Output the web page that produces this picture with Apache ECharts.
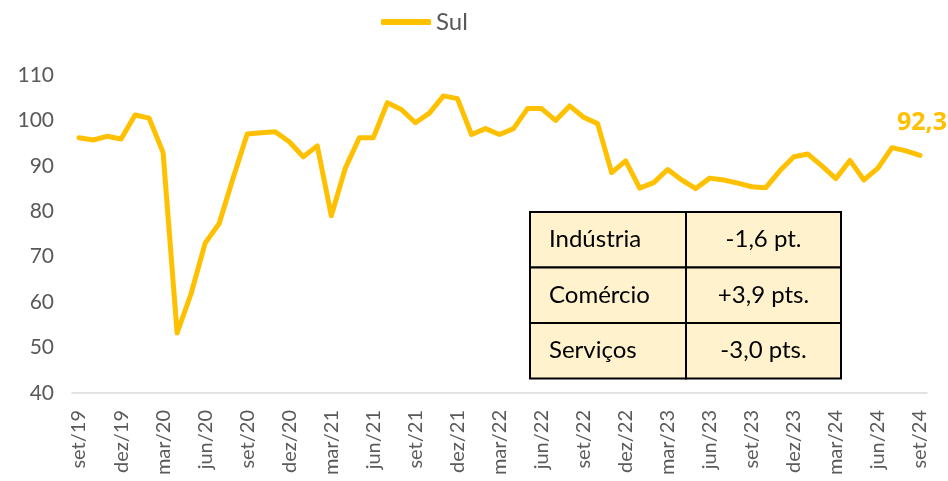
<!DOCTYPE html>
<html>
<head>
<meta charset="utf-8">
<script src="https://cdn.jsdelivr.net/npm/echarts@6/dist/echarts.min.js"></script>
<style>
  html, body { margin: 0; padding: 0; background: #fff; }
  #chart { width: 948px; height: 481px; }
</style>
</head>
<body>
<div id="chart"></div>
<script>
// meses de set/19 a set/24
const months = [
  "set/19", "out/19", "nov/19", "dez/19", "jan/20", "fev/20", "mar/20", "abr/20", "mai/20",
  "jun/20", "jul/20", "ago/20", "set/20", "out/20", "nov/20", "dez/20", "jan/21", "fev/21",
  "mar/21", "abr/21", "mai/21", "jun/21", "jul/21", "ago/21", "set/21", "out/21", "nov/21",
  "dez/21", "jan/22", "fev/22", "mar/22", "abr/22", "mai/22", "jun/22", "jul/22", "ago/22",
  "set/22", "out/22", "nov/22", "dez/22", "jan/23", "fev/23", "mar/23", "abr/23", "mai/23",
  "jun/23", "jul/23", "ago/23", "set/23", "out/23", "nov/23", "dez/23", "jan/24", "fev/24",
  "mar/24", "abr/24", "mai/24", "jun/24", "jul/24", "ago/24", "set/24"
];

const sulValues = [
  96.2, 95.7, 96.5, 95.9, 101.2, 100.5, 92.9, 53.2, 61.9,
  73.0, 77.3, 87.4, 97.0, 97.3, 97.5, 95.3, 92.0, 94.4,
  79.0, 89.5, 96.2, 96.2, 103.9, 102.4, 99.5, 101.6, 105.4,
  104.8, 96.9, 98.2, 96.9, 98.2, 102.6, 102.6, 100.0, 103.2,
  100.7, 99.3, 88.5, 91.1, 85.1, 86.3, 89.2, 86.9, 85.0,
  87.3, 86.9, 86.2, 85.4, 85.2, 88.9, 92.0, 92.6, 90.0,
  87.2, 91.2, 86.9, 89.5, 94.0, 93.3, 92.3
];

const yTicks = [40, 50, 60, 70, 80, 90, 100, 110];

// tabela de variações
const tableSectors = ["Indústria", "Comércio", "Serviços"];
const tableChanges = ["-1,6 pt.", "+3,9 pts.", "-3,0 pts."];

const amarelo = "#FFC000";
const cinza = "#595959";
const fonte = "Lato, 'Open Sans', sans-serif";

const chart = echarts.init(document.getElementById("chart"));

// caixa da tabela
const tbl = { x: 530, y: 212, w: 311, colW: 156, rowH: 55.5 };
const tableGraphics = [];
tableSectors.forEach((s, i) => {
  const top = tbl.y + i * tbl.rowH;
  tableGraphics.push({
    type: "rect",
    shape: { x: tbl.x, y: top, width: tbl.colW, height: tbl.rowH },
    style: { fill: "#FFF2CC", stroke: "#000", lineWidth: 2 }
  });
  tableGraphics.push({
    type: "rect",
    shape: { x: tbl.x + tbl.colW, y: top, width: tbl.w - tbl.colW, height: tbl.rowH },
    style: { fill: "#FFF2CC", stroke: "#000", lineWidth: 2 }
  });
  tableGraphics.push({
    type: "text",
    x: tbl.x + 19,
    y: top + tbl.rowH / 2,
    style: { text: s, fill: "#000", font: "24px " + fonte, textVerticalAlign: "middle" }
  });
  tableGraphics.push({
    type: "text",
    x: tbl.x + tbl.colW + (tbl.w - tbl.colW) / 2,
    y: top + tbl.rowH / 2,
    style: { text: tableChanges[i], fill: "#000", font: "24px " + fonte, textAlign: "center", textVerticalAlign: "middle" }
  });
});

const option = {
  animation: false,
  legend: {
    data: ["Sul"],
    left: 376,
    top: 5,
    itemWidth: 50,
    itemHeight: 6,
    itemGap: 4,
    icon: "roundRect",
    textStyle: { color: cinza, fontSize: 24, fontFamily: fonte }
  },
  grid: { left: 72, right: 21, top: 75, bottom: 88 },
  xAxis: {
    type: "category",
    data: months,
    boundaryGap: true,
    axisLine: { lineStyle: { color: "#D9D9D9", width: 1.5 } },
    axisTick: { show: false },
    axisLabel: {
      interval: 2,
      rotate: 90,
      color: cinza,
      fontSize: 20,
      fontFamily: fonte,
      margin: 17
    }
  },
  yAxis: {
    type: "value",
    min: yTicks[0],
    max: yTicks[yTicks.length - 1],
    interval: 10,
    splitLine: { show: false },
    axisLine: { show: false },
    axisTick: { show: false },
    axisLabel: { color: cinza, fontSize: 21, fontFamily: fonte, margin: 18 }
  },
  series: [
    {
      name: "Sul",
      type: "line",
      data: sulValues.map((v, i) =>
        i === sulValues.length - 1
          ? {
              value: v,
              label: {
                show: true,
                position: "top",
                offset: [2, -15],
                formatter: (p) => String(p.value).replace(".", ","),
                color: amarelo,
                fontWeight: 700,
                fontSize: 25,
                fontFamily: "'Open Sans', Lato, sans-serif"
              }
            }
          : v
      ),
      symbol: "circle",
      symbolSize: 0,
      showSymbol: true,
      lineStyle: { color: amarelo, width: 5, join: "round", cap: "round" },
      itemStyle: { color: amarelo }
    }
  ],
  graphic: tableGraphics
};

chart.setOption(option);
</script>
</body>
</html>
